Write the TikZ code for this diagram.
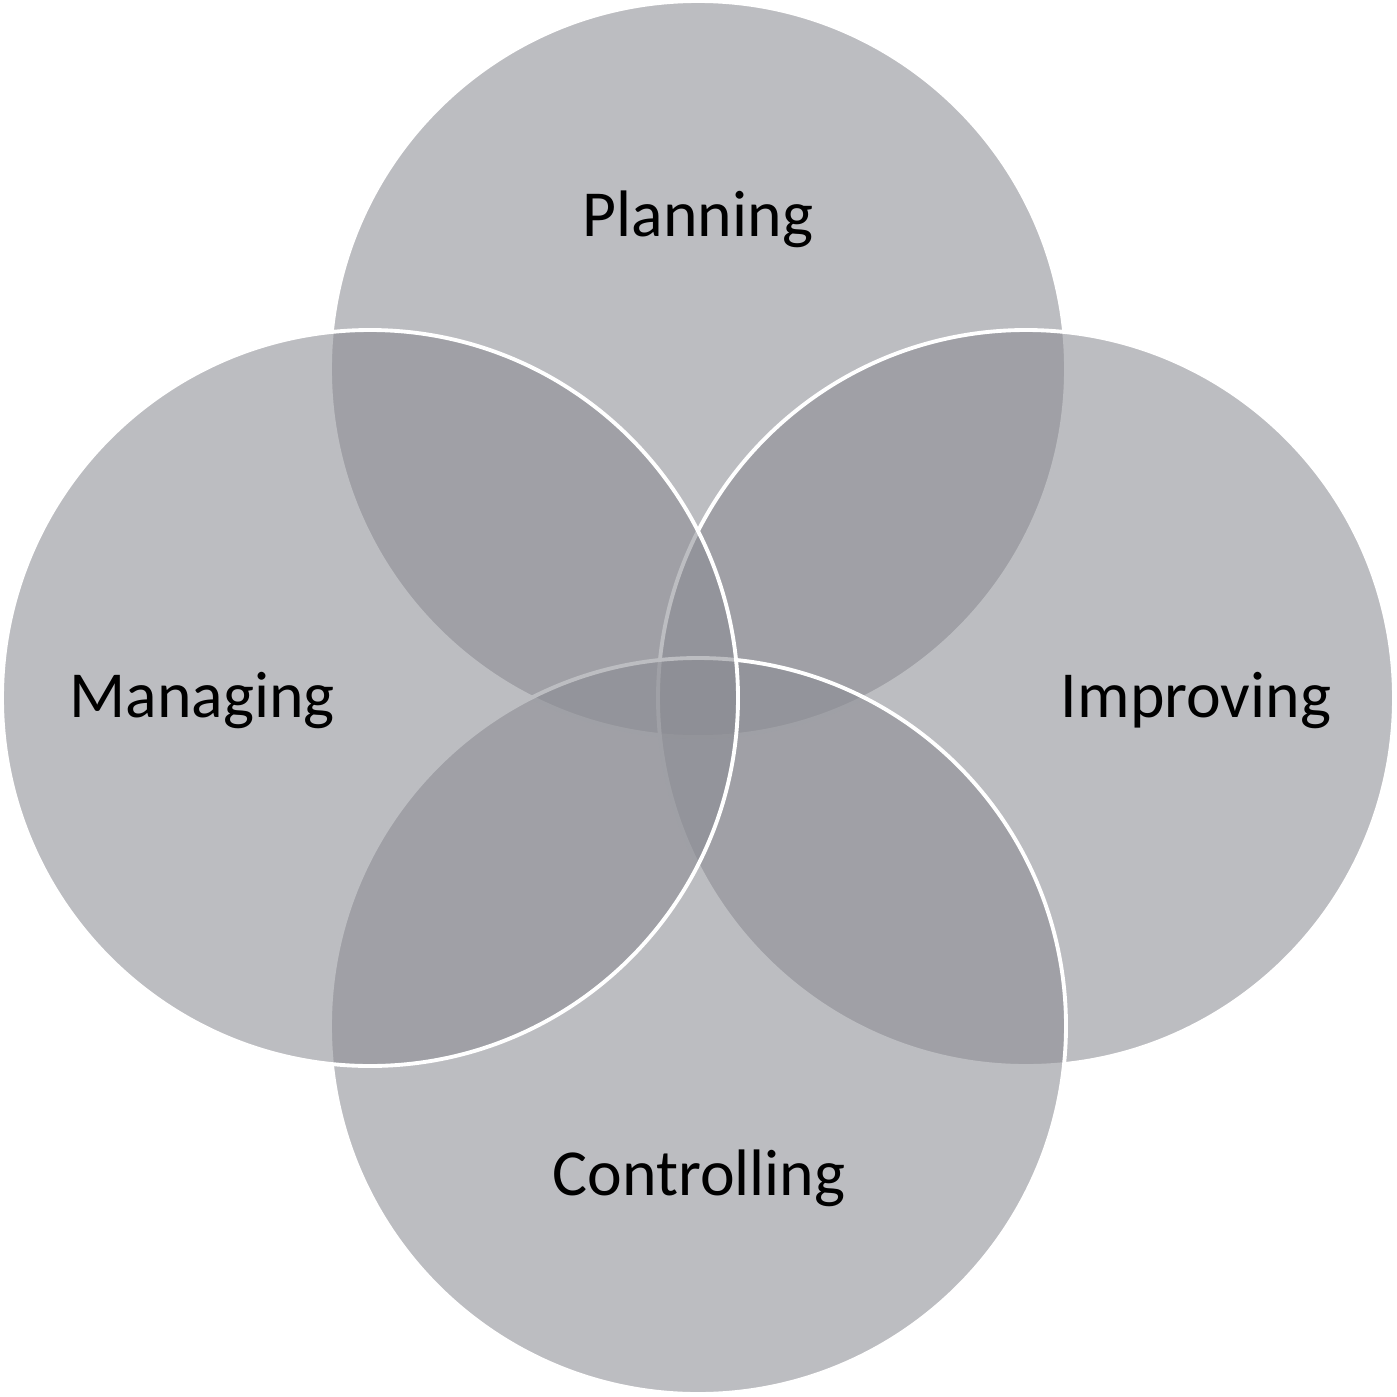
\documentclass[tikz,border=0pt]{standalone}
\usepackage{fontspec}
\setmainfont{Carlito}
\usepackage{tikz}

\definecolor{ringgray}{RGB}{138,139,146}

\begin{document}
\begin{tikzpicture}[
        ring/.style={circle, draw=white, line width=1.1pt, fill=ringgray,
          fill opacity=0.57, draw opacity=1, minimum size=73.6mm, inner sep=0pt},
        word/.style={anchor=base, inner sep=0pt, text=black,
          font=\fontsize{18.7}{22}\selectfont}]
     \useasboundingbox (0,0) rectangle (13.97,-13.97);
     % the four rings, in drawing order
     \node (P) at (6.98,-3.69) [ring] {};
     \node (I) at (10.26,-6.98) [ring] {};
     \node (C) at (6.98,-10.26) [ring] {};
     \node (M) at (3.70,-6.98) [ring] {};
     % labels
     \node (plan) at (6.98,-2.36) [word] {Planning};
     \node (manag) at (2.02,-7.17) [word] {Managing};
     \node (impr) at (11.96,-7.17) [word] {Improving};
     \node (ctrl) at (6.99,-11.95) [word] {Controlling};
    \end{tikzpicture}
\end{document}
